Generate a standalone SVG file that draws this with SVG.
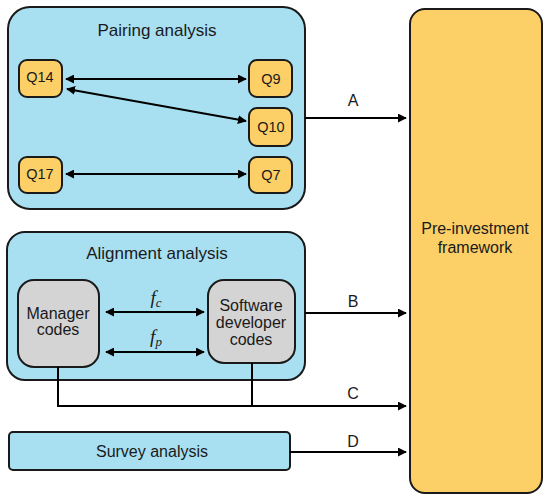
<svg xmlns="http://www.w3.org/2000/svg" width="550" height="502" viewBox="0 0 550 502">
<style>
.blue{fill:#a8e0f2;stroke:#1a1a1a;stroke-width:2}
.q{fill:#fdd067;stroke:#1a1a1a;stroke-width:2}
.g{fill:#d4d4d4;stroke:#1a1a1a;stroke-width:2}
.t{font-family:"Liberation Sans",Arial,sans-serif;fill:#1a1a1a;text-anchor:middle}
.ln{stroke:#000;stroke-width:2;fill:none}
.m{font-family:"Liberation Serif","Times New Roman",serif;font-style:italic;fill:#1a1a1a;text-anchor:middle}
</style>
<defs>
<marker id="ah" viewBox="0 0 10 10" refX="9" refY="5" markerWidth="4.5" markerHeight="4.5" orient="auto-start-reverse">
<path d="M0,0 L10,5 L0,10 z" fill="#000"/>
</marker>
</defs>
<g id="pairing">
<rect class="blue" x="8" y="7" width="297" height="202" rx="22"/>
<text class="t" x="157" y="36" font-size="17">Pairing analysis</text>
</g>
<g id="q14"><rect class="q" x="19" y="60" width="43" height="37" rx="8"/><text class="t" x="40" y="82" font-size="14.5">Q14</text></g>
<g id="q9"><rect class="q" x="249" y="60" width="43" height="37" rx="8"/><text class="t" x="271" y="84" font-size="14.5">Q9</text></g>
<g id="q10"><rect class="q" x="249" y="108" width="43" height="38" rx="8"/><text class="t" x="271" y="132" font-size="14.5">Q10</text></g>
<g id="q17"><rect class="q" x="19" y="157" width="43" height="36" rx="8"/><text class="t" x="40" y="179" font-size="14.5">Q17</text></g>
<g id="q7"><rect class="q" x="249" y="157" width="43" height="36" rx="8"/><text class="t" x="271" y="180" font-size="14.5">Q7</text></g>
<g id="alignment">
<rect class="blue" x="7" y="232" width="298" height="148" rx="18"/>
<text class="t" x="157" y="259" font-size="17">Alignment analysis</text>
</g>
<g id="manager"><rect class="g" x="18" y="280" width="81" height="87" rx="16"/><text class="t" x="58" y="319" font-size="16">Manager</text><text class="t" x="58" y="335" font-size="16">codes</text></g>
<g id="software"><rect class="g" x="208" y="280" width="87" height="83" rx="16"/><text class="t" x="251" y="311" font-size="16">Software</text><text class="t" x="251" y="328" font-size="16">developer</text><text class="t" x="251" y="345" font-size="16">codes</text></g>
<g id="survey"><rect class="blue" x="9" y="432" width="281" height="38" rx="4"/><text class="t" x="152" y="457" font-size="16">Survey analysis</text></g>
<g id="framework"><rect class="q" x="410" y="9" width="132" height="484" rx="15"/><text class="t" x="475" y="234" font-size="16">Pre-investment</text><text class="t" x="475" y="253" font-size="16">framework</text></g>
<g id="connectors">
<line class="ln" x1="66" y1="79" x2="246" y2="79" marker-start="url(#ah)" marker-end="url(#ah)"/>
<line class="ln" x1="67" y1="89" x2="246" y2="121" marker-start="url(#ah)" marker-end="url(#ah)"/>
<line class="ln" x1="66" y1="174" x2="246" y2="174" marker-start="url(#ah)" marker-end="url(#ah)"/>
<line class="ln" x1="106" y1="312" x2="204" y2="312" marker-start="url(#ah)" marker-end="url(#ah)"/>
<line class="ln" x1="106" y1="352" x2="204" y2="352" marker-start="url(#ah)" marker-end="url(#ah)"/>
<line class="ln" x1="305" y1="118" x2="406" y2="118" marker-end="url(#ah)"/>
<line class="ln" x1="305" y1="313" x2="406" y2="313" marker-end="url(#ah)"/>
<path class="ln" d="M58,367 V406 H406" marker-end="url(#ah)"/>
<line class="ln" x1="252" y1="363" x2="252" y2="406"/>
<line class="ln" x1="290" y1="452" x2="406" y2="452" marker-end="url(#ah)"/>
<text class="t" x="353" y="106" font-size="16">A</text>
<text class="t" x="353" y="307" font-size="16">B</text>
<text class="t" x="353" y="399" font-size="16">C</text>
<text class="t" x="353" y="447" font-size="16">D</text>
<text class="m" x="156" y="304" font-size="19">f<tspan font-size="13" dy="3">c</tspan></text>
<text class="m" x="156" y="343" font-size="19">f<tspan font-size="13" dy="3">p</tspan></text>
</g>
</svg>
